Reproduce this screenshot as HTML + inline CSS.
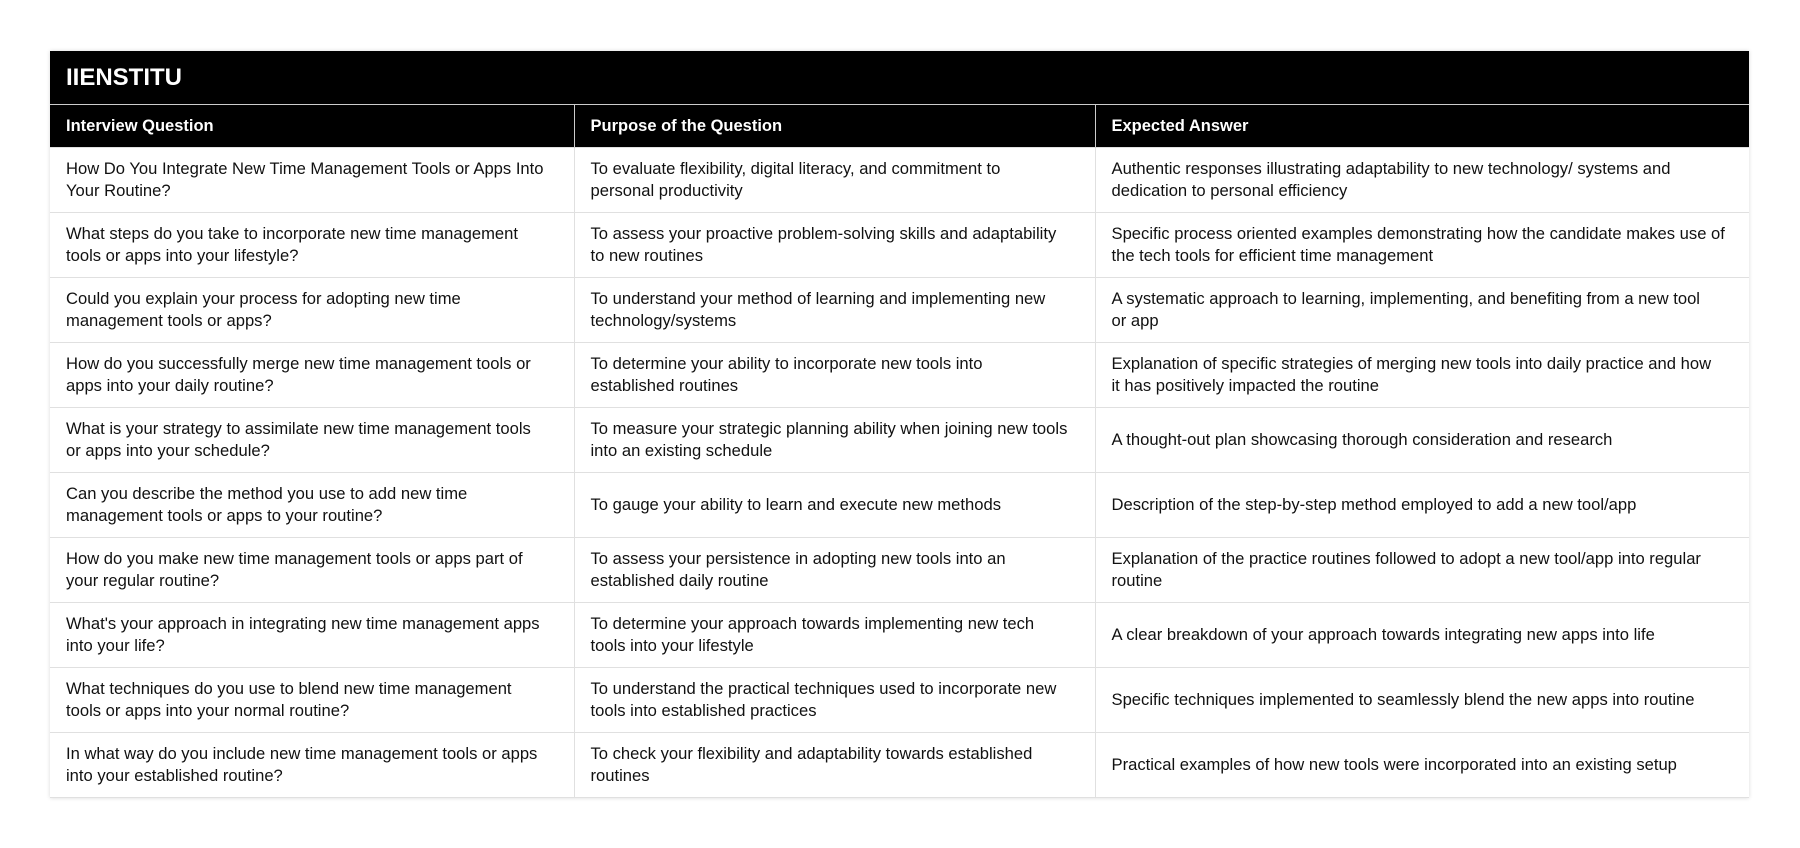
<!DOCTYPE html>
<html><head><meta charset="utf-8"><style>
html,body{margin:0;padding:0;background:#fff;width:1800px;height:848px;overflow:hidden}
.wrap{position:absolute;left:50px;top:51px;width:1699px;box-shadow:0 0 4px rgba(0,0,0,0.15)}
.title{background:#000;color:#fff;height:54px;font:bold 24px "Liberation Sans",sans-serif;line-height:54px;padding-left:16px;border-bottom:1px solid #ccc;box-sizing:border-box}
table{border-collapse:collapse;width:1699px;table-layout:fixed;font-family:"Liberation Sans",sans-serif}
th{background:#000;color:#fff;font-weight:bold;font-size:16.5px;text-align:left;height:42px;padding:0 16px;border-left:1px solid #ccc}
th:first-child{border-left:none}
td{height:64px;padding:0 16px;font-size:16.6px;line-height:22px;color:#111;border:1px solid #e0e0e0;white-space:nowrap;vertical-align:middle;overflow:hidden}
tr td:first-child{border-left:none}
tr td:last-child{border-right:none}
</style></head><body>
<div class="wrap">
<div class="title">IIENSTITU</div>
<table>
<colgroup><col style="width:524px"><col style="width:521px"><col style="width:654px"></colgroup>
<tr><th>Interview Question</th><th>Purpose of the Question</th><th>Expected Answer</th></tr>
<tr><td>How Do You Integrate New Time Management Tools or Apps Into<br>Your Routine?</td><td>To evaluate flexibility, digital literacy, and commitment to<br>personal productivity</td><td>Authentic responses illustrating adaptability to new technology/ systems and<br>dedication to personal efficiency</td></tr>
<tr><td>What steps do you take to incorporate new time management<br>tools or apps into your lifestyle?</td><td>To assess your proactive problem-solving skills and adaptability<br>to new routines</td><td>Specific process oriented examples demonstrating how the candidate makes use of<br>the tech tools for efficient time management</td></tr>
<tr><td>Could you explain your process for adopting new time<br>management tools or apps?</td><td>To understand your method of learning and implementing new<br>technology/systems</td><td>A systematic approach to learning, implementing, and benefiting from a new tool<br>or app</td></tr>
<tr><td>How do you successfully merge new time management tools or<br>apps into your daily routine?</td><td>To determine your ability to incorporate new tools into<br>established routines</td><td>Explanation of specific strategies of merging new tools into daily practice and how<br>it has positively impacted the routine</td></tr>
<tr><td>What is your strategy to assimilate new time management tools<br>or apps into your schedule?</td><td>To measure your strategic planning ability when joining new tools<br>into an existing schedule</td><td>A thought-out plan showcasing thorough consideration and research</td></tr>
<tr><td>Can you describe the method you use to add new time<br>management tools or apps to your routine?</td><td>To gauge your ability to learn and execute new methods</td><td>Description of the step-by-step method employed to add a new tool/app</td></tr>
<tr><td>How do you make new time management tools or apps part of<br>your regular routine?</td><td>To assess your persistence in adopting new tools into an<br>established daily routine</td><td>Explanation of the practice routines followed to adopt a new tool/app into regular<br>routine</td></tr>
<tr><td>What's your approach in integrating new time management apps<br>into your life?</td><td>To determine your approach towards implementing new tech<br>tools into your lifestyle</td><td>A clear breakdown of your approach towards integrating new apps into life</td></tr>
<tr><td>What techniques do you use to blend new time management<br>tools or apps into your normal routine?</td><td>To understand the practical techniques used to incorporate new<br>tools into established practices</td><td>Specific techniques implemented to seamlessly blend the new apps into routine</td></tr>
<tr><td>In what way do you include new time management tools or apps<br>into your established routine?</td><td>To check your flexibility and adaptability towards established<br>routines</td><td>Practical examples of how new tools were incorporated into an existing setup</td></tr>
</table>
</div>
</body></html>
